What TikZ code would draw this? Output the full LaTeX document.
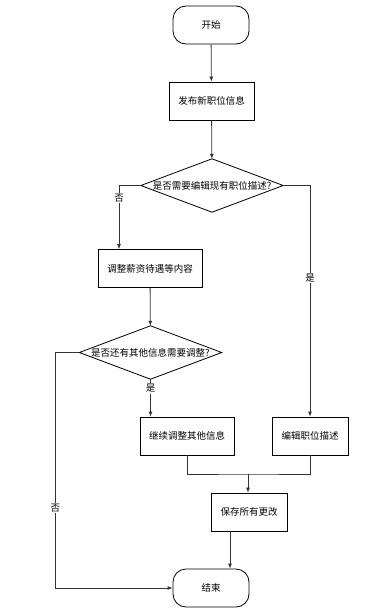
\documentclass[tikz,border=0pt]{standalone}
\usepackage{fontspec}
\setmainfont{Noto Sans CJK SC}
\usetikzlibrary{arrows.meta,positioning,calc}
\definecolor{ink}{HTML}{000000}
\definecolor{wire}{HTML}{333333}
\tikzset{
  >={Latex[length=5pt,width=4pt]},
  every node/.style={font=\fontsize{9.5}{11}\selectfont,text=ink},
  stepbox/.style={draw=ink,thick,fill=white,align=center,inner sep=0pt,minimum height=38pt},
  endbox/.style={stepbox,rounded corners=13pt,minimum width=76pt},
  decision/.style={inner sep=0pt,minimum width=142pt,minimum height=53pt},
  arrow/.style={->,thick,draw=wire},
  wireline/.style={thick,draw=wire},
  tag/.style={fill=white,inner sep=1pt},
}
\begin{document}
\begin{tikzpicture}[x=1pt,y=-1pt]
\useasboundingbox (0,0) rectangle (383,613);
\node[endbox] (start) at (211,25) {开始};
\node[stepbox,minimum width=85pt] (post) at (211.5,101) {发布新职位信息};
\node[decision] (askedit) at (212,185.5) {是否需要编辑现有职位描述?};
\draw[thick] (askedit.west) -- (askedit.north) -- (askedit.east) -- (askedit.south) -- cycle;
\node[stepbox,minimum width=104pt] (salary) at (150,268.5) {调整薪资待遇等内容};
\node[decision] (askmore) at (150.5,352.5) {是否还有其他信息需要调整?};
\draw[thick] (askmore.west) -- (askmore.north) -- (askmore.east) -- (askmore.south) -- cycle;
\node[stepbox,minimum width=94pt] (other) at (187,436) {继续调整其他信息};
\node[stepbox,minimum width=76pt] (desc) at (310,436) {编辑职位描述};
\node[stepbox,minimum width=76pt] (save) at (249,512) {保存所有更改};
\node[endbox] (finish) at (211,588) {结束};
\coordinate (join) at (248,474);
% flow
\draw[arrow] (start) -- (post);
\draw[arrow] (post) -- (askedit);
\draw[arrow] (askedit.west) -| node[tag,pos=0.6]{否} ([xshift=-31pt]salary.north);
\draw[arrow] (askedit.east) -| node[tag,pos=0.7]{是} (desc.north);
\draw[arrow] (salary) -- (askmore);
\draw[arrow] (askmore.south) -- node[tag,pos=0.25]{是} (askmore.south |- other.north);
\draw[arrow] (askmore.west) -- ++(-24,0) |- node[tag,pos=0.33]{否} (finish.west);
\draw[wireline] (other.south) |- (join) -| (desc.south);
\draw[arrow] (join) -- (save.north -| join);
\draw[arrow] ([xshift=-19pt]save.south) -- ([xshift=-19pt]save.south |- finish.north);
\end{tikzpicture}
\end{document}
